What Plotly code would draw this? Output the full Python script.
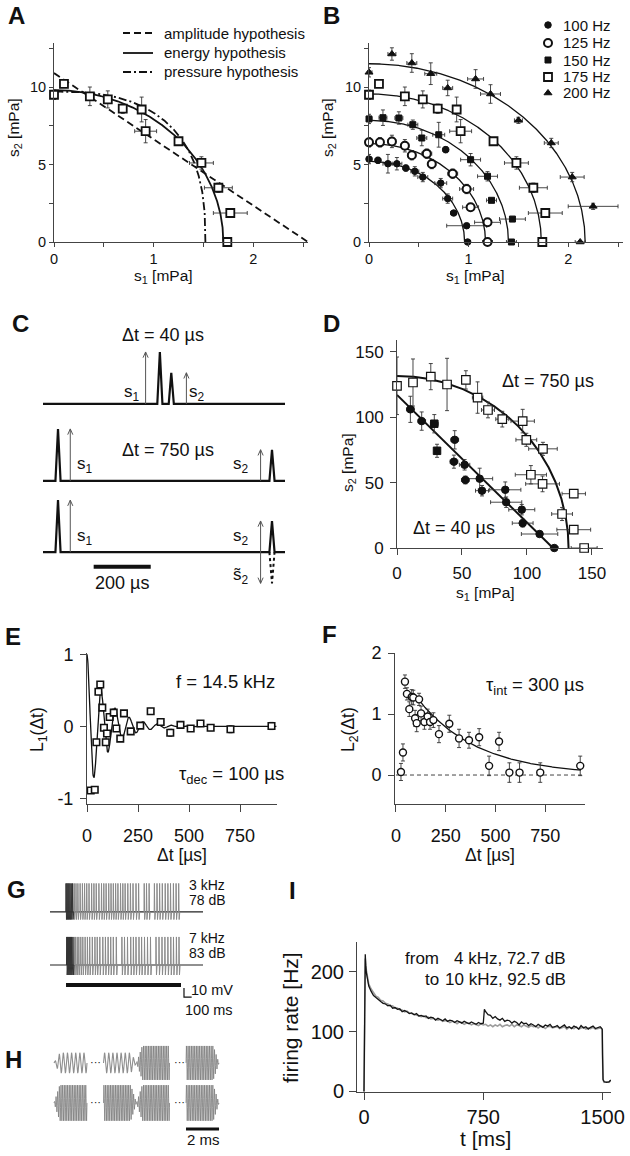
import numpy as np
import plotly.graph_objects as go

W, H = 630, 1156
FONT = "Liberation Sans, Arial, Helvetica, sans-serif"
AXC = "#444444"
INK = "#111111"


def xdom(a, b):
    return [a / W, b / W]


def ydom(top, bottom):
    return [1 - bottom / H, 1 - top / H]


def pxx(x):
    return x / W


def pxy(y):
    return 1 - y / H


# ===================== DATA =====================
# --- Panel A / B : 175 Hz (open squares) ---
f175_s1 = [0.0, 0.10, 0.36, 0.54, 0.69, 0.88, 0.92, 1.25, 1.48, 1.65, 1.77, 1.74]
f175_s2 = [9.50, 10.20, 9.40, 9.20, 8.60, 8.55, 7.15, 6.50, 5.10, 3.50, 1.87, 0.0]
f175_ex = [0.03, 0.03, 0.03, 0.03, 0.03, 0.04, 0.11, 0.04, 0.12, 0.14, 0.17, 0.03]
f175_ey = [0.30, 0.20, 0.60, 0.55, 0.30, 0.80, 0.75, 0.20, 0.40, 0.30, 0.20, 0.05]

# Panel A hypothesis curves (intercepts)
A_amp_s1max, A_amp_s2max = 2.55, 10.9
A_energy_s1max, A_energy_s2max = 1.70, 9.8
A_press_s1max, A_press_s2max, A_press_exp = 1.52, 9.7, 2.65
A_legend = ["amplitude hypothesis", "energy hypothesis", "pressure hypothesis"]

# --- Panel B ---
f100_s1 = [0.0, 0.09, 0.19, 0.28, 0.37, 0.46, 0.54, 0.72, 0.79, 0.85, 0.98, 0.99, 0.77]
f100_s2 = [5.35, 5.27, 5.05, 5.05, 4.77, 4.56, 4.19, 3.80, 2.80, 1.87, 1.05, 0.0, 5.96]
f100_ex = [0.03, 0.03, 0.05, 0.05, 0.03, 0.04, 0.05, 0.06, 0.05, 0.03, 0.20, 0.03, 0.03]
f100_ey = [0.30, 0.20, 0.60, 0.40, 0.20, 0.30, 0.30, 0.30, 0.30, 0.10, 0.10, 0.05, 0.20]

f125_s1 = [0.0, 0.11, 0.23, 0.36, 0.43, 0.58, 0.63, 0.84, 0.98, 1.02, 1.19, 1.19]
f125_s2 = [6.43, 6.43, 6.49, 6.21, 5.60, 5.70, 5.03, 4.41, 3.42, 2.24, 1.27, 0.0]
f125_ex = [0.03, 0.03, 0.04, 0.04, 0.04, 0.05, 0.04, 0.05, 0.07, 0.08, 0.13, 0.05]
f125_ey = [0.30, 0.30, 0.40, 0.40, 0.30, 0.30, 0.30, 0.30, 0.30, 0.20, 0.10, 0.05]

f150_s1 = [0.0, 0.14, 0.30, 0.44, 0.53, 0.70, 1.02, 1.19, 1.23, 1.44, 1.43]
f150_s2 = [7.94, 8.02, 8.00, 7.57, 6.71, 6.92, 5.31, 4.24, 2.69, 1.48, 0.0]
f150_ex = [0.03, 0.04, 0.04, 0.05, 0.05, 0.06, 0.10, 0.10, 0.05, 0.13, 0.05]
f150_ey = [0.30, 0.50, 0.40, 0.30, 0.50, 0.80, 0.40, 0.30, 0.10, 0.10, 0.05]

f200_s1 = [0.0, 0.23, 0.43, 0.62, 0.79, 1.07, 1.22, 1.50, 1.83, 2.04, 2.25, 2.12]
f200_s2 = [10.95, 12.13, 11.55, 10.86, 9.94, 10.52, 9.55, 7.85, 6.39, 4.19, 2.30, 0.0]
f200_ex = [0.03, 0.04, 0.05, 0.06, 0.05, 0.08, 0.10, 0.04, 0.07, 0.12, 0.25, 0.05]
f200_ey = [0.30, 0.40, 0.60, 0.70, 0.50, 0.60, 0.60, 0.20, 0.30, 0.30, 0.20, 0.05]

B_labels = ["100 Hz", "125 Hz", "150 Hz", "175 Hz", "200 Hz"]
B_fit_s1max = [0.96, 1.17, 1.40, 1.73, 2.17]
B_fit_s2max = [5.20, 6.35, 7.85, 9.55, 11.50]

# --- Panel C (stimulus schematic), times in us, amplitudes relative ---
C_row_base = [0.0, -1.48, -2.85]
C_pulse_t = [[357, 397], [0, 750], [0, 750]]
C_pulse_a = [[1.0, 0.6], [1.0, 0.6], [1.0, 0.6]]
C_arrow_t = [[307, 450], [43, 710], [43, 710]]
C_t_range = [-52.6, 795.6]
C_pulse_halfwidth = 9
C_scalebar = [125, 325]

# --- Panel D ---
D750_s1 = [0, 12.3, 26, 38.5, 53, 62, 70, 81, 96.7, 99.5, 112.3, 103, 112, 127, 136, 136, 144]
D750_s2 = [124, 126.5, 131, 125, 128.5, 115, 105.5, 98.5, 97, 82.7, 75.8, 56, 49, 26, 41.5, 14, 0]
D750_ex = [2, 2, 3, 3, 3, 4, 5, 5, 9, 8, 11, 12, 13, 8, 9, 13, 10]
D750_ey = [22, 18, 10, 20, 7, 12, 6, 6, 9, 5, 5, 7, 6, 5, 3, 3, 1]

D40_s1 = [10.3, 19, 28.7, 30.8, 44.4, 43.8, 52, 52.6, 63.6, 65.4, 83.3, 84, 96, 96.7, 109.7, 121]
D40_s2 = [106, 97, 95, 74.3, 82.7, 66, 63.6, 52, 53, 43.8, 44.5, 35, 29.3, 19, 10.7, 0]
D40_ex = [3, 3, 3, 2, 3, 3, 4, 3, 10, 5, 12, 12, 10, 8, 14, 3]
D40_ey = [10, 7, 7, 5, 7, 5, 4, 3, 8, 4, 6, 4, 4, 3, 2, 1]
D40_sym = ["circle", "circle", "square", "square", "circle", "circle", "circle", "circle",
           "circle", "circle", "circle", "circle", "circle", "circle", "circle", "circle"]
D750_fit = (132.0, 131.5)
D40_fit = (120.0, 117.0)

# --- Panel E ---
E_t = [18, 38, 46, 56, 65, 75, 83, 92, 98, 111, 131, 144, 163, 181, 214, 261, 312, 361, 408,
       458, 508, 556, 606, 703, 904]
E_L1 = [-0.89, -0.88, -0.22, 0.48, 0.58, 0.26, -0.02, -0.22, -0.10, 0.13, 0.19, -0.03, -0.17,
        0.18, -0.07, 0.01, 0.21, 0.06, -0.09, 0.02, -0.03, 0.04, -0.02, -0.04, 0.005]
E_err = [0.03, 0.03, 0.04, 0.04, 0.04, 0.04, 0.04, 0.04, 0.04, 0.04, 0.05, 0.04, 0.04, 0.04,
         0.04, 0.04, 0.04, 0.04, 0.05, 0.04, 0.04, 0.04, 0.04, 0.05, 0.05]
E_freq_khz = 14.5
E_tau_dec = 100.0
E_fit_tmax = 928

# --- Panel F ---
F_t = [25, 35, 45, 55, 67, 79, 87, 96, 104, 116, 126, 143, 159, 171, 188, 216, 268, 317, 367,
       418, 468, 518, 570, 621, 725, 926]
F_L2 = [0.05, 0.37, 1.53, 1.33, 1.08, 1.28, 1.27, 0.93, 0.85, 1.24, 1.01, 0.87, 0.96, 0.87, 0.90,
        0.67, 0.84, 0.60, 0.57, 0.62, 0.15, 0.55, 0.04, 0.04, 0.04, 0.15]
F_err = [0.14, 0.14, 0.11, 0.10, 0.12, 0.12, 0.12, 0.13, 0.14, 0.10, 0.12, 0.12, 0.12, 0.12,
         0.12, 0.14, 0.14, 0.15, 0.13, 0.14, 0.16, 0.15, 0.16, 0.16, 0.16, 0.16]
F_tau_int = 300.0
F_fit_amp = 1.8
F_fit_t = (90, 930)

# --- Panel G (spike times, ms) ---
G1_spikes = [0, 12, 25, 38, 52, 68, 86, 107, 130, 155, 184, 214, 242, 270, 300, 334, 364, 394,
             429, 463, 493, 523, 557, 587, 617, 647, 677, 711, 741, 771, 806, 840, 874, 913, 947,
             1020, 1050, 1084, 1153, 1187, 1221, 1256, 1294, 1329, 1363, 1401, 1436, 1470]
G2_spikes = [9, 21, 34, 47, 60, 73, 90, 107, 124, 146, 167, 193, 219, 249, 279, 309, 343, 377,
             407, 441, 480, 514, 549, 583, 617, 656, 729, 763, 802, 844, 879, 913, 952, 986,
             1024, 1063, 1102, 1174, 1213, 1252, 1290, 1329, 1367, 1402, 1440, 1474]
G_labels = [("3 kHz", "78 dB"), ("7 kHz", "83 dB")]
G_base = [55.8, 0.0]          # mV offsets of the two traces
G_t_range = [-209, 1787]
G_stim = [0, 1500]

# --- Panel H (stimulus waveforms) ---
H_segments = [
    [(0.0, 4.0, 0.6, "up"), (3.0, 4.0, 0.6, "down"), (5.0, 10.0, 1.0, "up"), (8.0, 10.0, 1.0, "down")],
    [(0.0, 10.0, 1.05, "up"), (3.0, 10.0, 1.05, "down"), (5.0, 10.0, 1.05, "up"), (8.0, 10.0, 1.05, "down")],
]
H_row_center = [0.0, -2.353]
H_seg_dur = 2.0
H_ramp = 0.35

# --- Panel I (firing rate, Hz) ---
I_black = [(0, 0), (4, 110), (8, 229), (11, 210), (15, 198), (20, 190), (25, 183),
           (30, 176), (45, 167), (60, 160), (75, 157), (90, 153), (105, 150), (120, 147),
           (135, 146), (150, 143), (165, 144), (180, 139), (195, 140), (210, 137), (225, 138),
           (240, 133), (255, 135), (270, 133), (285, 130), (300, 131), (315, 128), (330, 130),
           (345, 126), (360, 127), (375, 125), (390, 126), (405, 122), (420, 124), (435, 123),
           (450, 119), (465, 122), (480, 120), (495, 118), (510, 121), (525, 117), (540, 119),
           (555, 118), (570, 115), (585, 118), (600, 116), (615, 114), (630, 117), (645, 115),
           (660, 113), (675, 116), (690, 114), (705, 112), (720, 115), (735, 113), (750, 114),
           (757, 137), (765, 133), (780, 128), (795, 127), (810, 122), (825, 125), (840, 121),
           (855, 119), (870, 122), (885, 117), (900, 119), (915, 118), (930, 114), (945, 117),
           (960, 115), (975, 111), (990, 116), (1005, 113), (1020, 114), (1035, 110), (1050, 113),
           (1065, 111), (1080, 108), (1095, 112), (1110, 110), (1125, 107), (1140, 111),
           (1155, 109), (1170, 112), (1185, 107), (1200, 108), (1215, 110), (1230, 106),
           (1245, 109), (1260, 111), (1275, 106), (1290, 108), (1305, 105), (1320, 109),
           (1335, 107), (1350, 104), (1365, 110), (1380, 106), (1395, 108), (1410, 104),
           (1425, 107), (1440, 109), (1455, 105), (1470, 106), (1485, 108), (1492, 106),
           (1498, 104), (1500, 60), (1503, 20), (1510, 16), (1525, 15), (1540, 16), (1552, 19)]
I_gray = [(0, 0), (4, 105), (8, 222), (11, 212), (15, 202), (20, 194), (25, 187),
          (30, 179), (45, 171), (60, 164), (75, 159), (90, 157), (105, 152), (120, 151),
          (135, 147), (150, 146), (165, 142), (180, 143), (195, 139), (210, 139), (225, 136),
          (240, 136), (255, 133), (270, 134), (285, 131), (300, 130), (315, 129), (330, 128),
          (345, 127), (360, 125), (375, 126), (390, 123), (405, 124), (420, 121), (435, 122),
          (450, 121), (465, 119), (480, 120), (495, 117), (510, 118), (525, 118), (540, 115),
          (555, 117), (570, 116), (585, 113), (600, 116), (615, 115), (630, 112), (645, 114),
          (660, 114), (675, 111), (690, 113), (705, 112), (720, 110), (735, 113), (750, 111),
          (765, 112), (780, 109), (795, 111), (810, 108), (825, 111), (840, 109), (855, 112),
          (870, 108), (885, 110), (900, 111), (915, 109), (930, 112), (945, 108), (960, 111),
          (975, 110), (990, 108), (1005, 111), (1020, 109), (1035, 107), (1050, 110),
          (1065, 108), (1080, 109), (1095, 106), (1110, 109), (1125, 108), (1140, 105),
          (1155, 108), (1170, 109), (1185, 106), (1200, 107), (1215, 108), (1230, 105),
          (1245, 107), (1260, 108), (1275, 104), (1290, 107), (1305, 106), (1320, 105),
          (1335, 108), (1350, 104), (1365, 106), (1380, 107), (1395, 104), (1410, 106),
          (1425, 105), (1440, 107), (1455, 104), (1470, 105), (1485, 106), (1492, 105),
          (1498, 103), (1500, 55), (1503, 19), (1510, 15), (1525, 16), (1540, 15), (1552, 18)]

# ===================== FIGURE =====================
fig = go.Figure()


def quarter(a, b, p=2.0, n=400):
    th = np.linspace(0, np.pi / 2, n)
    return a * np.cos(th) ** (2 / p), b * np.sin(th) ** (2 / p)


def err(arr):
    return dict(type="data", array=arr, visible=True, color="#333333", thickness=0.9, width=2)


def line(x, y, ax, color=INK, width=1.5, dash="solid"):
    fig.add_trace(go.Scatter(x=x, y=y, mode="lines", xaxis="x" + ax, yaxis="y" + ax,
                             line=dict(color=color, width=width, dash=dash),
                             hoverinfo="skip", showlegend=False, cliponaxis=False))


def marks(x, y, ax, symbol, size, fill, lw=1.5, ex=None, ey=None):
    fig.add_trace(go.Scatter(x=x, y=y, mode="markers", xaxis="x" + ax, yaxis="y" + ax,
                             marker=dict(symbol=symbol, size=size, color=fill,
                                         line=dict(color=INK, width=lw)),
                             error_x=err(ex) if ex is not None else None,
                             error_y=err(ey) if ey is not None else None,
                             hoverinfo="skip", showlegend=False, cliponaxis=False))


# ---- A ----
line([0, A_amp_s1max], [A_amp_s2max, 0], "", width=1.8, dash="7px,4px")
xe, ye = quarter(A_energy_s1max, A_energy_s2max)
line(xe, ye, "", width=1.8)
xp, yp = quarter(A_press_s1max, A_press_s2max, A_press_exp)
line(xp, yp, "", width=1.8, dash="8px,3px,2px,3px")
marks(f175_s1, f175_s2, "", "square", 8, "white", 1.8, f175_ex, f175_ey)

# ---- B ----
for a, b in zip(B_fit_s1max, B_fit_s2max):
    xb, yb = quarter(a, b)
    line(xb, yb, "2", width=1.3)
B_sets = [
    (f100_s1, f100_s2, f100_ex, f100_ey, "circle", 6.5, INK, 1),
    (f125_s1, f125_s2, f125_ex, f125_ey, "circle", 8, "white", 2),
    (f150_s1, f150_s2, f150_ex, f150_ey, "square", 6, INK, 1),
    (f175_s1, f175_s2, f175_ex, f175_ey, "square", 8, "white", 1.8),
    (f200_s1, f200_s2, f200_ex, f200_ey, "triangle-up", 7, INK, 1),
]
for s1, s2, ex, ey, sym, sz, fill, lw in B_sets:
    marks(s1, s2, "2", sym, sz, fill, lw, ex, ey)

# legends (overlay axis in pixel coordinates)
LEG_A_y = [33, 53, 72]
LEG_A_x = [123, 153]
for yy, dash in zip(LEG_A_y, ["7px,4px", "solid", "8px,3px,2px,3px"]):
    line(LEG_A_x, [yy, yy], "10", width=1.8, dash=dash)
LEG_B_y = [25, 43, 60, 77, 93]
LEG_B_x = 548
for yy, (s1, s2, ex, ey, sym, sz, fill, lw) in zip(LEG_B_y, B_sets):
    marks([LEG_B_x], [yy], "10", sym, sz, fill, lw)

# ---- C ----
for r, base in enumerate(C_row_base):
    xs, ys = [C_t_range[0]], [base]
    for t, a in zip(C_pulse_t[r], C_pulse_a[r]):
        xs += [t - C_pulse_halfwidth, t, t + C_pulse_halfwidth]
        ys += [base, base + a, base]
    xs.append(C_t_range[1])
    ys.append(base)
    line(xs, ys, "3", width=2.2)
    for t, a in zip(C_arrow_t[r], C_pulse_a[r]):
        top = base + a
        bot = base - a if (r == 2 and t == C_arrow_t[r][1]) else base
        line([t, t], [bot, top], "3", color="#555555", width=1)
        line([t - 9, t, t + 9], [top - 0.11, top, top - 0.11], "3", color="#555555", width=1)
        if bot < base:
            line([t - 9, t, t + 9], [bot + 0.11, bot, bot + 0.11], "3", color="#555555", width=1)
    if r == 2:
        t2, a2 = C_pulse_t[r][1], C_pulse_a[r][1]
        line([t2 - C_pulse_halfwidth, t2, t2 + C_pulse_halfwidth], [base, base - a2, base], "3",
             width=2, dash="dot")
line(C_scalebar, [-3.13, -3.13], "3", width=4)

# ---- D ----
xd, yd = quarter(*D750_fit)
line(xd, yd, "4", width=2)
line([0, D40_fit[0]], [D40_fit[1], 0], "4", width=2)
marks(D750_s1, D750_s2, "4", "square", 8.5, "white", 1.2, D750_ex, D750_ey)
marks(D40_s1, D40_s2, "4", D40_sym, 7.5, INK, 1, D40_ex, D40_ey)

# ---- E ----
tE = np.linspace(0, E_fit_tmax, 800)
line(tE, np.cos(2 * np.pi * E_freq_khz * 1e-3 * tE) * np.exp(-tE / E_tau_dec), "5", width=1.3)
marks(E_t, E_L1, "5", "square", 6.5, "white", 1.6, None, E_err)

# ---- F ----
line([0, 945], [0, 0], "6", color="#444444", width=1, dash="4px,3px")
tF = np.linspace(F_fit_t[0], F_fit_t[1], 300)
line(tF, F_fit_amp * np.exp(-tF / F_tau_int), "6", width=1.3)
marks(F_t, F_L2, "6", "circle", 7, "white", 1.4, None, F_err)


# ---- G ----
def spike_xy(times, base, up, down):
    xs, ys = [], []
    for t in times:
        xs += [t - 3, t, t + 6, t + 14, None]
        ys += [base, base + up, base - down, base, None]
    return xs, ys


for base, spk, up, down in [(G_base[0], G1_spikes, 30, 8), (G_base[1], G2_spikes, 29.5, 10.5)]:
    line(G_t_range, [base, base], "7", color="#222222", width=1.2)
    xs, ys = spike_xy(spk[7:], base, up, down)
    line(xs, ys, "7", color="#8a8a8a", width=1)
    xs, ys = spike_xy(spk[:7], base, up, down)
    line(xs, ys, "7", color="#333333", width=1)
line(G_stim, [-21, -21], "7", width=4)
line([1539, 1539, 1639], [-24.2, -33.7, -33.7], "7", width=1.2)

# ---- H ----
for row, segs in enumerate(H_segments):
    c = H_row_center[row]
    for t0, fk, amp, ramp in segs:
        n = int(H_seg_dur * fk * 24) + 1
        tt = np.linspace(0, H_seg_dur, n)
        env = np.clip(tt / H_ramp, 0, 1) if ramp == "up" else np.clip((H_seg_dur - tt) / H_ramp, 0, 1)
        yy = c + amp * env * np.sin(2 * np.pi * fk * tt)
        col = "#8f8f8f" if fk < 5 else "#7c7c7c"
        line(t0 + tt, yy, "8", color=col, width=1.1 if fk < 5 else 0.8)
line([8, 10], [-3.88, -3.88], "8", width=3)

# ---- I ----
line([p[0] for p in I_gray], [p[1] for p in I_gray], "9", color="#9c9c9c", width=1.6)
line([p[0] for p in I_black], [p[1] for p in I_black], "9", color="#141414", width=1.3)


# ===================== AXES =====================
def axis(domain, rng, tickvals=None, fs=14, anchor=None, ticklen=4, standoff=0,
         visible=True, minor=None, ticktext=None):
    d = dict(domain=domain, range=rng, anchor=anchor, visible=visible, showgrid=False,
             zeroline=False, fixedrange=True, automargin=False)
    if visible:
        d.update(showline=True, linecolor=AXC, linewidth=1, ticks="outside", ticklen=ticklen,
                 tickcolor=AXC, tickwidth=1, tickvals=tickvals, tickmode="array",
                 tickfont=dict(size=fs, color=INK, family=FONT), ticklabelstandoff=standoff)
        if ticktext is not None:
            d["ticktext"] = ticktext
        if minor is not None:
            d["minor"] = dict(tickmode="array", tickvals=minor, ticks="outside", ticklen=ticklen,
                              tickcolor=AXC, tickwidth=1, showgrid=False)
    return d


layout_axes = dict(
    xaxis=axis(xdom(54, 308), [0, 2.55], [0, 1, 2], 14.5, "y", minor=[0.5, 1.5, 2.5]),
    yaxis=axis(ydom(43, 242), [0, 12.84], [0, 5, 10], 14.5, "x", minor=[2.5, 7.5, 12.5]),
    xaxis2=axis(xdom(369, 623), [0, 2.55], [0, 1, 2], 14.5, "y2", minor=[0.5, 1.5, 2.5]),
    yaxis2=axis(ydom(43, 242), [0, 12.84], [0, 5, 10], 14.5, "x2", minor=[2.5, 7.5, 12.5]),
    xaxis3=axis(xdom(43, 285), C_t_range, anchor="y3", visible=False),
    yaxis3=axis(ydom(320, 600), [-3.77, 1.615], anchor="x3", visible=False),
    xaxis4=axis(xdom(397, 603), [0, 158.5], [0, 50, 100, 150], 17, "y4", 6, 4),
    yaxis4=axis(ydom(340, 548), [0, 159], [0, 50, 100, 150], 17, "x4", 6, 3),
    xaxis5=axis(xdom(87, 277), [0, 931], [0, 250, 500, 750], 18, "y5", 7, 8),
    yaxis5=axis(ydom(653, 804), [-1.078, 1.018], [-1, 0, 1], 18, "x5", 6, 3,
                ticktext=["-1", "0", "1"]),
    xaxis6=axis(xdom(395, 585), [-5, 950], [0, 250, 500, 750], 18, "y6", 7, 8),
    yaxis6=axis(ydom(653, 804), [-0.475, 2.0], [0, 1, 2], 18, "x6", 6, 3),
    xaxis7=axis(xdom(50, 203), G_t_range, anchor="y7", visible=False),
    yaxis7=axis(ydom(868, 1000), [-36.8, 102], anchor="x7", visible=False),
    xaxis8=axis(xdom(53, 222), [-0.06, 10.18], anchor="y8", visible=False),
    yaxis8=axis(ydom(1040, 1150), [-5.12, 1.35], anchor="x8", visible=False),
    xaxis9=axis(xdom(357, 611), [-44, 1553], [0, 750, 1500], 20, "y9", 7, 0),
    yaxis9=axis(ydom(942, 1092), [-1, 249.5], [0, 100, 200], 20, "x9", 7, 1),
    xaxis10=axis([0, 1], [0, W], anchor="y10", visible=False),
    yaxis10=axis([0, 1], [H, 0], anchor="x10", visible=False),
)


# ===================== TEXT =====================
def ann(text, x, y, size, xanchor="center", yanchor="middle", angle=0, color=INK):
    return dict(text=text, x=pxx(x), y=pxy(y), xref="paper", yref="paper", showarrow=False,
                xanchor=xanchor, yanchor=yanchor, textangle=angle,
                font=dict(size=size, family=FONT, color=color), borderpad=0)


annotations = []
# panel letters
for letter, (x, y) in zip("ABCDEFGHI", [(16, 15), (331, 15), (20, 323), (331, 323), (13, 636),
                                        (329, 634), (16, 889), (13, 1059), (292, 890)]):
    annotations.append(ann("<b>%s</b>" % letter, x, y, 24))

# axis titles
annotations += [
    ann("s<sub>1</sub> [mPa]", 163, 276, 15.5),
    ann("s<sub>2</sub> [mPa]", 14, 128, 15.5, angle=-90),
    ann("s<sub>1</sub> [mPa]", 475, 276, 15.5),
    ann("s<sub>2</sub> [mPa]", 328, 128, 15.5, angle=-90),
    ann("s<sub>1</sub> [mPa]", 485, 593, 15.5),
    ann("s<sub>2</sub> [mPa]", 349, 463, 15.5, angle=-90),
    ann("Δt [µs]", 182, 855, 17.5),
    ann("L<sub>1</sub>(Δt)", 38, 730, 17.5, angle=-90),
    ann("Δt [µs]", 490, 855, 17.5),
    ann("L<sub>2</sub>(Δt)", 349, 730, 17.5, angle=-90),
    ann("t [ms]", 485, 1138, 21),
    ann("firing rate [Hz]", 291, 1018, 21, angle=-90),
]
# legends text
for yy, t in zip(LEG_A_y, A_legend):
    annotations.append(ann(t, 163, yy, 15, xanchor="left"))
for yy, t in zip(LEG_B_y, B_labels):
    annotations.append(ann(t, 562, yy, 15, xanchor="left"))

# panel C text
annotations += [
    ann("Δt = 40 µs", 163, 335, 18),
    ann("Δt = 750 µs", 168, 450, 18),
    ann("s<sub>1</sub>", 132, 393, 17),
    ann("s<sub>2</sub>", 197, 393, 17),
    ann("s<sub>1</sub>", 85, 465, 17),
    ann("s<sub>2</sub>", 241, 465, 17),
    ann("s<sub>1</sub>", 85, 537, 17),
    ann("s<sub>2</sub>", 241, 537, 17),
    ann("s\u0303<sub>2</sub>", 241, 576, 17),
    ann("200 µs", 122, 583, 18),
]
# panel D, E, F text
annotations += [
    ann("Δt = 750 µs", 501, 381, 18, xanchor="left"),
    ann("Δt = 40 µs", 412, 528, 18, xanchor="left"),
    ann("f = 14.5 kHz", 276, 681, 18.5, xanchor="right"),
    ann("τ<sub>dec</sub> = 100 µs", 285, 775, 18.5, xanchor="right"),
    ann("τ<sub>int</sub> = 300 µs", 585, 686, 18.5, xanchor="right"),
]
# panel G text
annotations += [
    ann(G_labels[0][0], 188, 885, 14, xanchor="left"),
    ann(G_labels[0][1], 188, 900, 14, xanchor="left"),
    ann(G_labels[1][0], 188, 938, 14, xanchor="left"),
    ann(G_labels[1][1], 188, 953, 14, xanchor="left"),
    ann("10 mV", 190, 990, 14.5, xanchor="left"),
    ann("100 ms", 184, 1010, 14.5, xanchor="left"),
]
# panel H text
for yy in [1062, 1102]:
    for xx in [95, 179]:
        annotations.append(ann("···", xx, yy, 11))
annotations.append(ann("2 ms", 203, 1139, 15))
# panel I text
annotations += [
    ann("from", 440, 958, 17, xanchor="right"),
    ann("4 kHz, 72.7 dB", 567, 958, 17, xanchor="right"),
    ann("to", 440, 979, 17, xanchor="right"),
    ann("10 kHz, 92.5 dB", 567, 979, 17, xanchor="right"),
]

fig.update_layout(
    template="none",
    width=W, height=H, autosize=False, margin=dict(l=0, r=0, t=0, b=0, pad=0),
    paper_bgcolor="white", plot_bgcolor="rgba(0,0,0,0)",
    font=dict(family=FONT, color=INK), showlegend=False,
    annotations=annotations, **layout_axes,
)

fig.write_html("out.html", config={"displayModeBar": False, "staticPlot": True},
               post_script="document.body.style.margin='0px';")
